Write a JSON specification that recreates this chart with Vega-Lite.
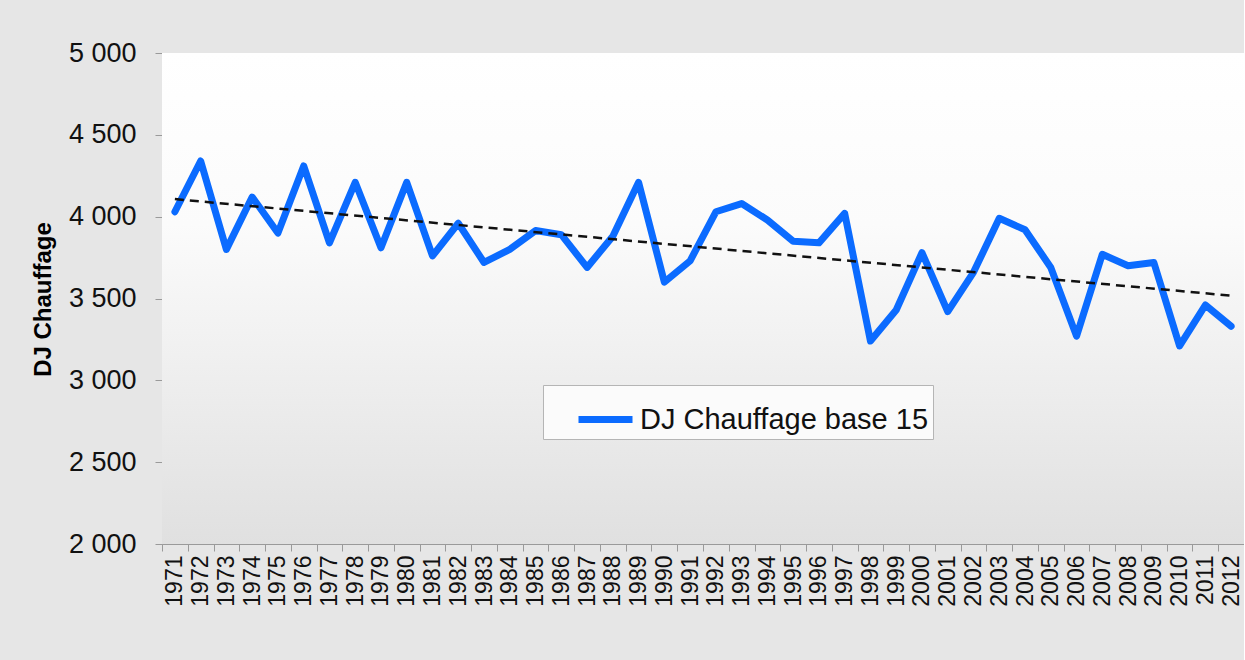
{
  "$schema": "https://vega.github.io/schema/vega-lite/v6.json",
  "autosize": {"type": "none"},
  "padding": {"left": 162, "top": 53, "right": 0, "bottom": 116},
  "width": 1082,
  "height": 491,
  "background": "#e6e6e6",
  "config": {
    "font": "Liberation Sans",
    "view": {"stroke": null},
    "axis": {"labelFont": "Liberation Sans", "labelColor": "#111111", "domainColor": "#9a9a9a", "tickColor": "#9a9a9a", "tickSize": 7}
  },
  "datasets": {
    "dj": [
      {"year": 1971, "value": 4030}, {"year": 1972, "value": 4340}, {"year": 1973, "value": 3800},
      {"year": 1974, "value": 4120}, {"year": 1975, "value": 3900}, {"year": 1976, "value": 4310},
      {"year": 1977, "value": 3840}, {"year": 1978, "value": 4210}, {"year": 1979, "value": 3810},
      {"year": 1980, "value": 4210}, {"year": 1981, "value": 3760}, {"year": 1982, "value": 3960},
      {"year": 1983, "value": 3720}, {"year": 1984, "value": 3800}, {"year": 1985, "value": 3915},
      {"year": 1986, "value": 3890}, {"year": 1987, "value": 3690}, {"year": 1988, "value": 3880},
      {"year": 1989, "value": 4210}, {"year": 1990, "value": 3600}, {"year": 1991, "value": 3730},
      {"year": 1992, "value": 4030}, {"year": 1993, "value": 4080}, {"year": 1994, "value": 3980},
      {"year": 1995, "value": 3850}, {"year": 1996, "value": 3840}, {"year": 1997, "value": 4020},
      {"year": 1998, "value": 3240}, {"year": 1999, "value": 3430}, {"year": 2000, "value": 3780},
      {"year": 2001, "value": 3420}, {"year": 2002, "value": 3660}, {"year": 2003, "value": 3990},
      {"year": 2004, "value": 3920}, {"year": 2005, "value": 3690}, {"year": 2006, "value": 3270},
      {"year": 2007, "value": 3770}, {"year": 2008, "value": 3700}, {"year": 2009, "value": 3720},
      {"year": 2010, "value": 3210}, {"year": 2011, "value": 3460}, {"year": 2012, "value": 3330}
    ],
    "bg": [{"panel": "plot"}]
  },
  "layer": [
    {
      "data": {"name": "bg"},
      "mark": {
        "type": "rect",
        "color": {
          "gradient": "linear", "x1": 0, "y1": 0, "x2": 0, "y2": 1,
          "stops": [
            {"offset": 0, "color": "#ffffff"},
            {"offset": 0.35, "color": "#fbfbfb"},
            {"offset": 1, "color": "#e0e0e0"}
          ]
        }
      },
      "encoding": {}
    },
    {
      "data": {"name": "dj"},
      "mark": {"type": "line", "strokeWidth": 7, "strokeJoin": "round", "strokeCap": "round"},
      "encoding": {
        "x": {
          "field": "year", "type": "ordinal", "bandPosition": 0.5,
          "scale": {"type": "band", "paddingInner": 0, "paddingOuter": 0},
          "axis": {"title": null, "labelAngle": -90, "labelFontSize": 23, "labelPadding": 4, "tickBand": "extent", "labelColor": "#111111"}
        },
        "y": {
          "field": "value", "type": "quantitative",
          "scale": {"domain": [2000, 5000], "nice": false, "zero": false},
          "axis": {
            "title": "DJ Chauffage",
            "titleFontSize": 24, "titleFontWeight": "bold", "titleColor": "#000000",
            "titleX": -119, "titleY": 246, "titleAngle": -90, "titleAlign": "center", "titleBaseline": "middle",
            "values": [2000, 2500, 3000, 3500, 4000, 4500, 5000],
            "labelExpr": "replace(format(datum.value, ','), ',', ' ')",
            "labelFontSize": 27, "labelPadding": 19,
            "grid": true, "gridColor": "#b0b0b0", "gridDash": [3, 2], "gridWidth": 1
          }
        },
        "color": {
          "datum": "DJ Chauffage base 15",
          "scale": {"range": ["#0b6bff"]},
          "legend": {
            "title": null, "orient": "none", "legendX": 381, "legendY": 332,
            "symbolType": "stroke", "symbolStrokeWidth": 7, "symbolSize": 2916,
            "symbolOffset": 28, "labelOffset": 4,
            "labelFontSize": 29, "labelFont": "Liberation Sans", "labelColor": "#111111",
            "fillColor": "#fbfbfb", "strokeColor": "#b5b5b5", "padding": 4, "labelLimit": 450
          }
        }
      }
    },
    {
      "data": {"name": "dj"},
      "transform": [{"regression": "value", "on": "year"}],
      "mark": {"type": "line", "color": "#111111", "strokeWidth": 2.5, "strokeDash": [9, 6]},
      "encoding": {
        "x": {"field": "year", "type": "ordinal", "bandPosition": 0.5},
        "y": {"field": "value", "type": "quantitative"}
      }
    }
  ]
}
